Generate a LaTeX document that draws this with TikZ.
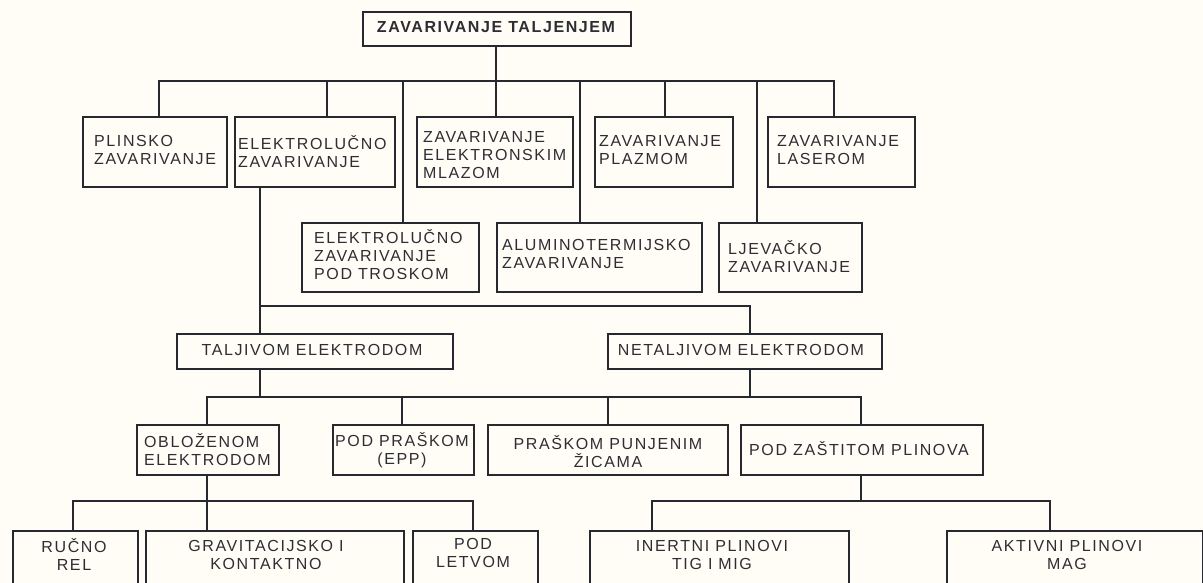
\documentclass[tikz,border=0pt]{standalone}
\usepackage{fontspec}
\setmainfont{Liberation Sans}
\newfontfamily\lblfont[LetterSpace=10]{Liberation Sans}
\definecolor{bgc}{RGB}{255,253,245}
\definecolor{lc}{RGB}{38,42,48}
\definecolor{tc}{RGB}{45,45,52}
\tikzset{
  box/.style={draw=lc, line width=1.7pt, inner sep=0pt, anchor=north west},
  lbl/.style={font=\lblfont\fontsize{16}{18}\selectfont, text=tc, inner sep=0pt, align=left},
  clbl/.style={lbl, align=center},
  conn/.style={draw=lc, line width=1.7pt, line cap=rect}
}
\begin{document}
\begin{tikzpicture}[x=1pt,y=-1pt]
\useasboundingbox (0,0) rectangle (1203,583);
\fill[bgc] (0,0) rectangle (1203,583);
\clip (0,0) rectangle (1203,583);
% ---------- boxes ----------
\node[box, minimum width=268pt, minimum height=34pt] (root) at (362,11) {};
\node[box, minimum width=144pt, minimum height=70pt] (plin) at (82,116) {};
\node[box, minimum width=160pt, minimum height=70pt] (elek) at (234,116) {};
\node[box, minimum width=156pt, minimum height=70pt] (mlaz) at (416,116) {};
\node[box, minimum width=138pt, minimum height=70pt] (plaz) at (594,116) {};
\node[box, minimum width=147pt, minimum height=70pt] (laser) at (767,116) {};
\node[box, minimum width=177pt, minimum height=69pt] (trosk) at (301,222) {};
\node[box, minimum width=205pt, minimum height=69pt] (alum) at (496,222) {};
\node[box, minimum width=143pt, minimum height=69pt] (ljev) at (718,222) {};
\node[box, minimum width=276pt, minimum height=35pt] (talj) at (176,333) {};
\node[box, minimum width=274pt, minimum height=35pt] (netalj) at (607,333) {};
\node[box, minimum width=142pt, minimum height=50pt] (oblo) at (136,424) {};
\node[box, minimum width=141pt, minimum height=50pt] (epp) at (332,424) {};
\node[box, minimum width=240pt, minimum height=50pt] (zica) at (487,424) {};
\node[box, minimum width=242pt, minimum height=50pt] (plinova) at (740,424) {};
\node[box, minimum width=125pt, minimum height=80pt] (rucno) at (12,530) {};
\node[box, minimum width=258pt, minimum height=80pt] (grav) at (145,530) {};
\node[box, minimum width=125pt, minimum height=80pt] (letva) at (412,530) {};
\node[box, minimum width=259pt, minimum height=80pt] (inert) at (589,530) {};
\node[box, minimum width=256pt, minimum height=80pt] (aktiv) at (946,530) {};
% ---------- texts ----------
\node[clbl, font=\lblfont\bfseries\fontsize{16}{18}\selectfont] (root-t) at (496,27) {ZAVARIVANJE TALJENJEM};
\node[lbl, anchor=west] (plin-t) at (94,150) {PLINSKO\\ZAVARIVANJE};
\node[lbl, anchor=west] (elek-t) at (238,152) {ELEKTROLUČNO\\ZAVARIVANJE};
\node[lbl, anchor=west] (mlaz-t) at (423,155) {ZAVARIVANJE\\ELEKTRONSKIM\\MLAZOM};
\node[lbl, anchor=west] (plaz-t) at (599,150) {ZAVARIVANJE\\PLAZMOM};
\node[lbl, anchor=west] (laser-t) at (777,150) {ZAVARIVANJE\\LASEROM};
\node[lbl, anchor=west] (trosk-t) at (314,255) {ELEKTROLUČNO\\ZAVARIVANJE\\POD TROSKOM};
\node[lbl, anchor=west] (alum-t) at (502,254) {ALUMINOTERMIJSKO\\ZAVARIVANJE};
\node[lbl, anchor=west] (ljev-t) at (728,257) {LJEVAČKO\\ZAVARIVANJE};
\node[clbl] (talj-t) at (312,350) {TALJIVOM ELEKTRODOM};
\node[clbl] (netalj-t) at (741,350) {NETALJIVOM ELEKTRODOM};
\node[lbl, anchor=west] (oblo-t) at (144,450) {OBLOŽENOM\\ELEKTRODOM};
\node[clbl] (epp-t) at (402,450) {POD PRAŠKOM\\(EPP)};
\node[clbl] (zica-t) at (608,452) {PRAŠKOM PUNJENIM\\ŽICAMA};
\node[clbl] (plinova-t) at (859,449) {POD ZAŠTITOM PLINOVA};
\node[clbl] (rucno-t) at (74,555) {RUČNO\\REL};
\node[clbl] (grav-t) at (266,555) {GRAVITACIJSKO I\\KONTAKTNO};
\node[clbl] (letva-t) at (473,553) {POD\\LETVOM};
\node[clbl] (inert-t) at (712,555) {INERTNI PLINOVI\\TIG I MIG};
\node[clbl] (aktiv-t) at (1067,555) {AKTIVNI PLINOVI\\MAG};
% ---------- junction coordinates ----------
\coordinate (j0) at (496,81);
\coordinate (jPlin) at (159,81);
\coordinate (jElek) at (327,81);
\coordinate (jTrosk) at (403,81);
\coordinate (jAlum) at (580,81);
\coordinate (jPlaz) at (665,81);
\coordinate (jLjev) at (757,81);
\coordinate (jLaser) at (834,81);
\coordinate (e0) at (260,306);
\coordinate (eNet) at (750,306);
\coordinate (t0) at (260,397);
\coordinate (tOblo) at (207,397);
\coordinate (tEpp) at (402,397);
\coordinate (tNet) at (750,397);
\coordinate (tZica) at (608,397);
\coordinate (tPlin) at (861,397);
\coordinate (o0) at (207,501);
\coordinate (oRuc) at (73,501);
\coordinate (oLet) at (473,501);
\coordinate (p0) at (861,501);
\coordinate (pIn) at (652,501);
\coordinate (pAk) at (1050,501);
% ---------- connectors ----------
% level 1
\draw[conn] (root.south -| j0) -- (j0);
\draw[conn] (jPlin) -- (jLaser);
\draw[conn] (jPlin) -- (jPlin |- plin.north);
\draw[conn] (jElek) -- (jElek |- elek.north);
\draw[conn] (jTrosk) -- (jTrosk |- trosk.north);
\draw[conn] (j0) -- (j0 |- mlaz.north);
\draw[conn] (jAlum) -- (jAlum |- alum.north);
\draw[conn] (jPlaz) -- (jPlaz |- plaz.north);
\draw[conn] (jLjev) -- (jLjev |- ljev.north);
\draw[conn] (jLaser) -- (jLaser |- laser.north);
% level 2
\draw[conn] (elek.south -| e0) -- (e0) -- (eNet);
\draw[conn] (e0) -- (e0 |- talj.north);
\draw[conn] (eNet) -- (eNet |- netalj.north);
% level 3
\draw[conn] (talj.south -| t0) -- (t0);
\draw[conn] (netalj.south -| tNet) -- (tNet);
\draw[conn] (tOblo) -- (tPlin);
\draw[conn] (tOblo) -- (tOblo |- oblo.north);
\draw[conn] (tEpp) -- (tEpp |- epp.north);
\draw[conn] (tZica) -- (tZica |- zica.north);
\draw[conn] (tPlin) -- (tPlin |- plinova.north);
% level 4
\draw[conn] (oblo.south -| o0) -- (o0);
\draw[conn] (oRuc) -- (oLet);
\draw[conn] (oRuc) -- (oRuc |- rucno.north);
\draw[conn] (o0) -- (o0 |- grav.north);
\draw[conn] (oLet) -- (oLet |- letva.north);
\draw[conn] (plinova.south -| p0) -- (p0);
\draw[conn] (pIn) -- (pAk);
\draw[conn] (pIn) -- (pIn |- inert.north);
\draw[conn] (pAk) -- (pAk |- aktiv.north);
\end{tikzpicture}
\end{document}
